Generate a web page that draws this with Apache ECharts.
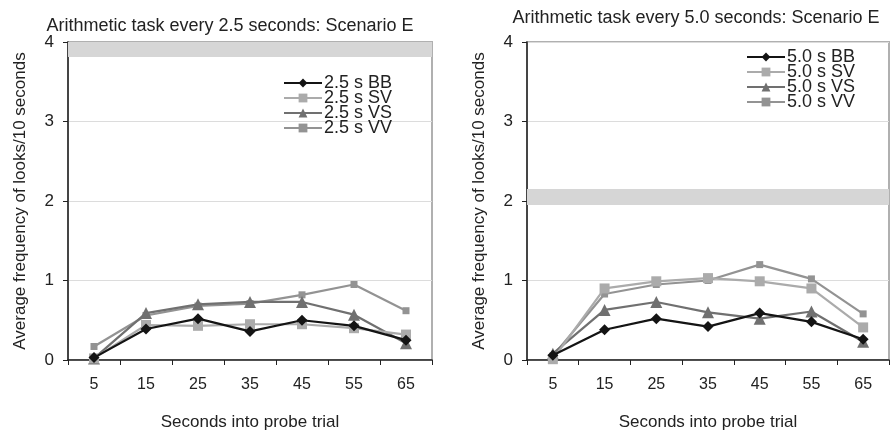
<!DOCTYPE html>
<html>
<head>
<meta charset="utf-8">
<script src="https://cdn.jsdelivr.net/npm/echarts@6/dist/echarts.min.js"></script>
<style>
html,body{margin:0;padding:0;background:#fff;overflow:hidden;}
#c{width:893px;height:436px;}
</style>
</head>
<body>
<div id="c"></div>
<script>
const categories = ['5', '15', '25', '35', '45', '55', '65'];
const yTicks = [0, 1, 2, 3, 4];

const leftTitle = 'Arithmetic task every 2.5 seconds: Scenario E';
const rightTitle = 'Arithmetic task every 5.0 seconds: Scenario E';
const yName = 'Average frequency of looks/10 seconds';
const xName = 'Seconds into probe trial';

const leftNames = ['2.5 s BB', '2.5 s SV', '2.5 s VS', '2.5 s VV'];
const rightNames = ['5.0 s BB', '5.0 s SV', '5.0 s VS', '5.0 s VV'];

const left_BB = [0.03, 0.39, 0.52, 0.36, 0.50, 0.43, 0.25];
const left_SV = [0.02, 0.44, 0.43, 0.45, 0.45, 0.40, 0.32];
const left_VS = [0.02, 0.59, 0.70, 0.73, 0.73, 0.57, 0.21];
const left_VV = [0.17, 0.56, 0.68, 0.71, 0.82, 0.95, 0.62];

const right_BB = [0.06, 0.38, 0.52, 0.42, 0.59, 0.48, 0.26];
const right_SV = [0.01, 0.90, 0.99, 1.03, 0.99, 0.90, 0.41];
const right_VS = [0.08, 0.63, 0.73, 0.60, 0.52, 0.61, 0.23];
const right_VV = [0.05, 0.83, 0.95, 1.00, 1.20, 1.02, 0.58];

const leftBand = [3.81, 4.0];
const rightBand = [1.95, 2.15];

const FONT = '"Liberation Sans", Arial, sans-serif';
const styles = [
  {color: '#141414', symbol: 'diamond', size: 11},
  {color: '#ababab', symbol: 'rect', size: 10},
  {color: '#707070', symbol: 'triangle', size: 12},
  {color: '#939393', symbol: 'rect', size: 7}
];

function mkSeries(names, datas, idx, band) {
  return names.map((n, i) => {
    const s = {
      name: n,
      type: 'line',
      xAxisIndex: idx,
      yAxisIndex: idx,
      data: datas[i],
      symbol: styles[i].symbol,
      symbolSize: styles[i].size,
      showAllSymbol: true,
      lineStyle: {color: styles[i].color, width: 2.2},
      itemStyle: {color: styles[i].color},
      z: 10 - i,
      animation: false
    };
    if (i === 0) {
      s.markArea = {
        silent: true,
        itemStyle: {color: '#d6d6d6'},
        data: [[{yAxis: band[0]}, {yAxis: band[1]}]]
      };
    }
    return s;
  }).reverse();
}

function xAx(idx) {
  return {
    type: 'category', gridIndex: idx, data: categories, boundaryGap: true,
    axisLine: {lineStyle: {color: '#222', width: 1.5}},
    axisTick: {show: true, length: 5, lineStyle: {color: '#222'}},
    axisLabel: {color: '#222', fontSize: 16, fontFamily: FONT, margin: 17},
    name: xName, nameLocation: 'middle', nameGap: 54,
    nameTextStyle: {color: '#222', fontSize: 17, fontFamily: FONT}
  };
}
function yAx(idx) {
  return {
    type: 'value', gridIndex: idx, min: 0, max: 4, interval: 1,
    axisLine: {show: true, lineStyle: {color: '#222', width: 1.5}},
    axisTick: {show: true, length: 5, lineStyle: {color: '#222'}},
    axisLabel: {color: '#222', fontSize: 17, fontFamily: FONT, margin: 14,
      formatter: v => yTicks.includes(v) ? String(v) : ''},
    splitLine: {show: true, lineStyle: {color: '#dcdcdc', width: 1}},
    name: yName, nameLocation: 'middle', nameGap: 39,
    nameTextStyle: {color: '#222', fontSize: 17, fontFamily: FONT}
  };
}
function legend(names, left, top) {
  return {
    data: names, orient: 'vertical', left: left, top: top,
    itemWidth: 38, itemHeight: 11, itemGap: -3,
    textStyle: {color: '#222', fontSize: 18, fontFamily: FONT, padding: [0, 0, 0, -3]},
    padding: 0, selectedMode: false
  };
}

const chart = echarts.init(document.getElementById('c'), null, {renderer: 'canvas', width: 893, height: 436});
chart.setOption({
  animation: false,
  backgroundColor: '#fff',
  title: [
    {text: leftTitle, left: 225, top: 12, textAlign: 'center',
      textStyle: {color: '#222', fontSize: 18, fontWeight: 'normal', fontFamily: FONT}},
    {text: rightTitle, left: 691, top: 4, textAlign: 'center',
      textStyle: {color: '#222', fontSize: 18, fontWeight: 'normal', fontFamily: FONT}}
  ],
  legend: [legend(leftNames, 283, 74), legend(rightNames, 746, 48)],
  grid: [
    {left: 68, top: 42, right: 461, bottom: 72, show: true, borderColor: '#b0b0b0', borderWidth: 2, backgroundColor: 'transparent'},
    {left: 527, top: 42, right: 4, bottom: 73, show: true, borderColor: '#b0b0b0', borderWidth: 2, backgroundColor: 'transparent'}
  ],
  xAxis: [xAx(0), xAx(1)],
  yAxis: [yAx(0), yAx(1)],
  series: [
    ...mkSeries(leftNames, [left_BB, left_SV, left_VS, left_VV], 0, leftBand),
    ...mkSeries(rightNames, [right_BB, right_SV, right_VS, right_VV], 1, rightBand)
  ]
});
</script>
</body>
</html>
